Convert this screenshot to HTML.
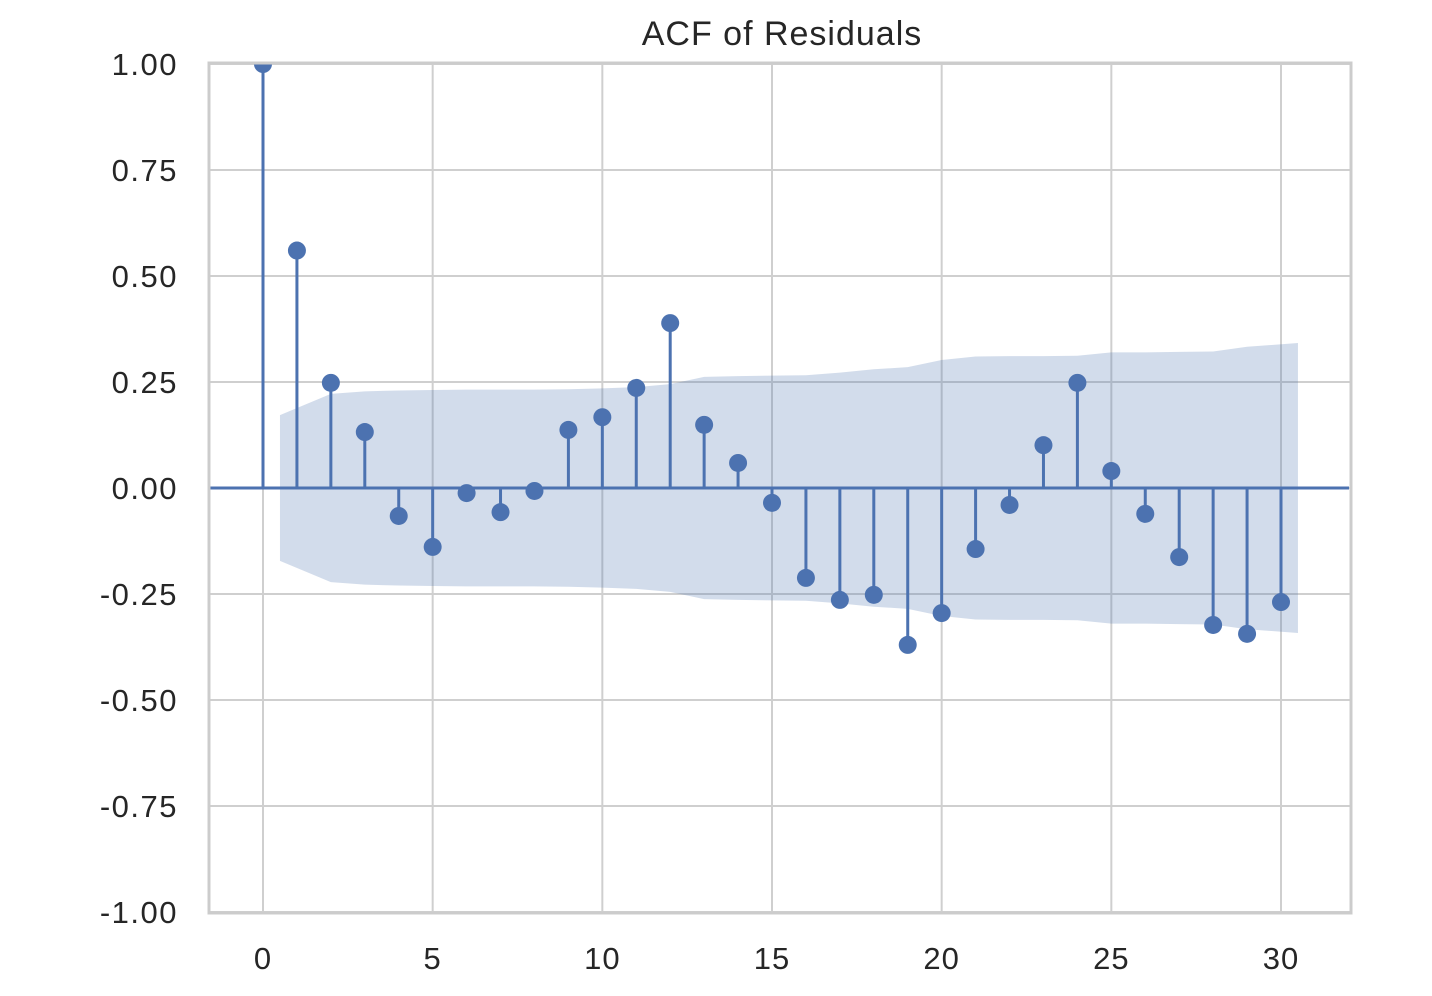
<!DOCTYPE html>
<html><head><meta charset="utf-8"><style>
html,body{margin:0;padding:0;background:#fff;}
svg{display:block;}
text{font-family:"Liberation Sans",Arial,sans-serif;fill:#262626;}
</style></head><body>
<svg id="chart" width="1432" height="996"></svg>
<script>
const lags=[0,1,2,3,4,5,6,7,8,9,10,11,12,13,14,15,16,17,18,19,20,21,22,23,24,25,26,27,28,29,30];
const acfValues=[1.0,0.56,0.248,0.132,-0.066,-0.139,-0.012,-0.057,-0.007,0.137,0.167,0.236,0.389,0.149,0.059,-0.035,-0.212,-0.264,-0.252,-0.370,-0.295,-0.144,-0.040,0.101,0.248,0.040,-0.061,-0.163,-0.323,-0.344,-0.269];
const bandLags=[1,2,3,4,5,6,7,8,9,10,11,12,13,14,15,16,17,18,19,20,21,22,23,24,25,26,27,28,29,30];
const bandValues=[0.172,0.222,0.228,0.230,0.231,0.232,0.232,0.232,0.233,0.235,0.238,0.245,0.262,0.264,0.265,0.266,0.272,0.280,0.285,0.302,0.310,0.311,0.311,0.312,0.320,0.320,0.321,0.322,0.333,0.342];
const yTicks=[1.0,0.75,0.5,0.25,0,-0.25,-0.5,-0.75,-1.0];
const yTickLabels=["1.00","0.75","0.50","0.25","0.00","-0.25","-0.50","-0.75","-1.00"];
const xTicks=[0,5,10,15,20,25,30];
const xTickLabels=["0","5","10","15","20","25","30"];

const NS="http://www.w3.org/2000/svg";
const svg=document.getElementById('chart');
const L=209,R=1351,T=63,B=913;
const xs=v=>263+v*(1281-263)/30;
const ys=v=>488-v*424;
function el(tag,attrs,parent){const e=document.createElementNS(NS,tag);for(const k in attrs)e.setAttribute(k,attrs[k]);(parent||svg).appendChild(e);return e;}

const clip=el('clipPath',{id:'ax'});el('rect',{x:L,y:T,width:R-L,height:B-T},clip);

yTicks.forEach((t,i)=>{
  const g=el('line',{x1:L,x2:R,y1:ys(t),y2:ys(t),stroke:'#cfcfcf','stroke-width':2});
  
  
  const tx=el('text',{x:178,y:ys(t)+11,'text-anchor':'end','font-size':31,'letter-spacing':1.5});
  tx.textContent=yTickLabels[i];
  
  
});
xTicks.forEach((t,i)=>{
  const g=el('line',{x1:xs(t),x2:xs(t),y1:T,y2:B,stroke:'#cfcfcf','stroke-width':2});
  
  
  const tx=el('text',{x:xs(t),y:969,'text-anchor':'middle','font-size':31,'letter-spacing':1});
  tx.textContent=xTickLabels[i];
  
  
});

const bx=bandLags.map((l,i)=>i===0?l-0.5:(i===bandLags.length-1?l+0.5:l));
let pts=bx.map((x,i)=>xs(x)+','+ys(bandValues[i]));
pts=pts.concat(bx.slice().reverse().map((x,j)=>{const i=bx.length-1-j;return xs(x)+','+ys(-bandValues[i]);}));
const band=el('polygon',{points:pts.join(' '),fill:'rgba(76,114,176,0.25)'});



const g=el('g',{'clip-path':'url(#ax)'});
const zl=el('line',{x1:L,x2:R-2,y1:ys(0),y2:ys(0),stroke:'#4c72b0','stroke-width':3},g);


lags.forEach((l,i)=>{
  const s=el('line',{x1:xs(l),x2:xs(l),y1:ys(0),y2:ys(acfValues[i]),stroke:'#4c72b0','stroke-width':3},g);
  
  
  const c=el('circle',{cx:xs(l),cy:ys(acfValues[i]),r:9,fill:'#4c72b0'},g);
  
  
});

const fr=el('rect',{x:L,y:T,width:R-L,height:B-T,fill:'none',stroke:'#cccccc','stroke-width':3});



const title=el('text',{x:782,y:45,'text-anchor':'middle','font-size':34,'letter-spacing':1});
title.textContent='ACF of Residuals';


</script>
</body></html>
